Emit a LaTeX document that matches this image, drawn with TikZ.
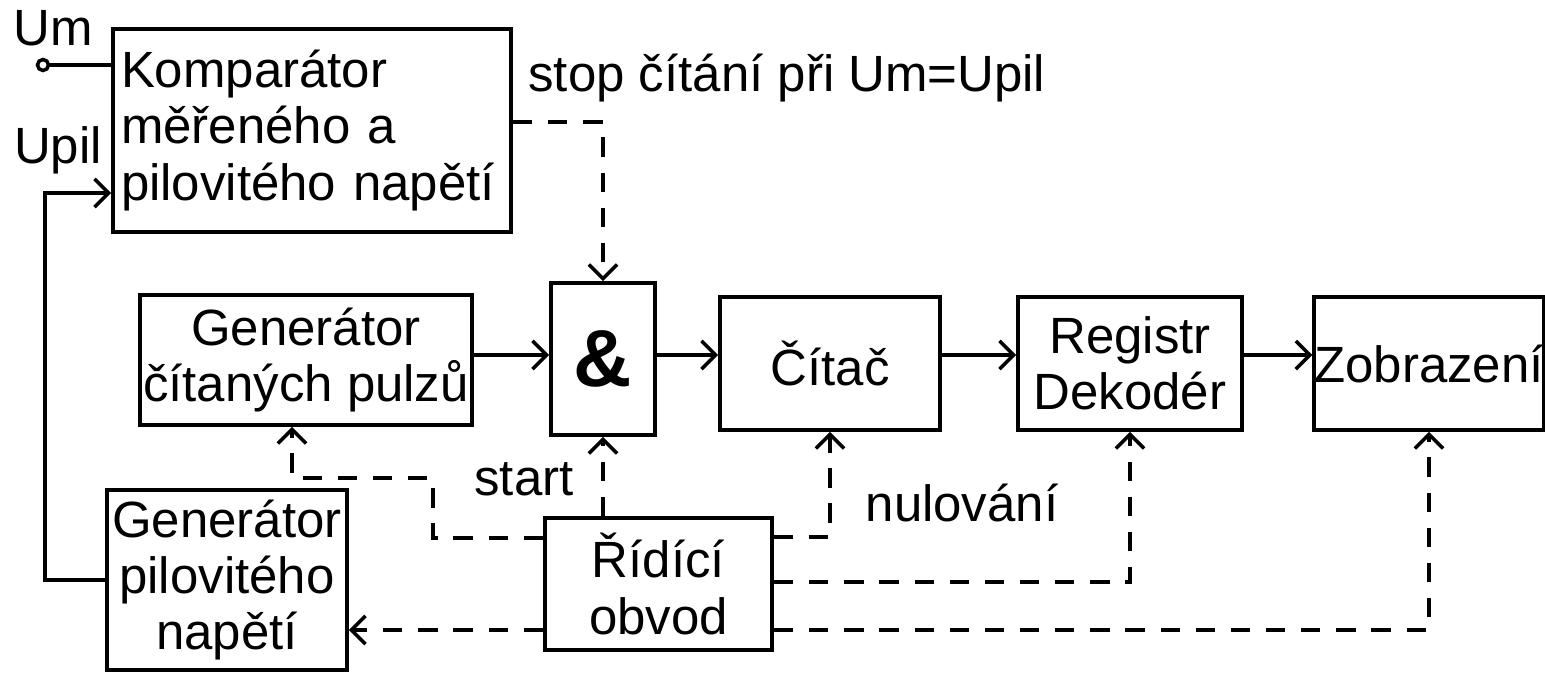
\documentclass[tikz,border=0pt]{standalone}
\usepackage{fontspec}
\setmainfont{Liberation Sans}
\usetikzlibrary{arrows.meta}
\begin{document}
\begin{tikzpicture}[line width=1pt, >={Straight Barb[length=4pt,width=8pt]},
  font=\fontsize{14.5}{16}\selectfont,
  blok/.style={draw, line width=1.1pt, inner sep=0pt, align=center},
  ctrl/.style={dash pattern=on 5.5pt off 4.5pt}]
\useasboundingbox (0,0) rectangle (15.45,6.74);
% bloky
\node[blok, minimum width=3.98cm, minimum height=2.03cm, text width=3.82cm, align=left] (komp) at (3.12,5.435) {Komparátor\\měřeného a\\pilovitého napětí};
\node[blok, minimum width=3.32cm, minimum height=1.30cm] (gencit) at (3.06,3.14) {Generátor\\čítaných pulzů};
\node[blok, minimum width=1.04cm, minimum height=1.52cm, font=\fontsize{23}{23}\selectfont\bfseries] (and) at (6.03,3.15) {\&};
\node[blok, minimum width=2.20cm, minimum height=1.33cm] (citac) at (8.30,3.105) {Čítač};
\node[blok, minimum width=2.24cm, minimum height=1.33cm] (reg) at (11.30,3.105) {Registr\\Dekodér};
\node[blok, minimum width=2.26cm, minimum height=1.33cm] (zobr) at (14.29,3.105) {Zobrazení};
\node[blok, minimum width=2.40cm, minimum height=1.80cm] (genpil) at (2.27,0.94) {Generátor\\pilovitého\\napětí};
\node[blok, minimum width=2.27cm, minimum height=1.32cm] (ridic) at (6.585,0.90) {Řídící\\obvod};
% vstupy
\node (um) at (0.53,6.46) {Um};
\node[circle, draw, inner sep=0pt, minimum size=0.11cm] (umin) at (0.43,6.09) {};
\node (upil) at (0.58,5.24) {Upil};
\coordinate (upilc) at (0.45,4.81);
\draw (umin) -- (umin -| komp.west);
\draw[->] (genpil.west) -| (upilc) -- (upilc -| komp.west);
% stop
\node[anchor=west] (stop) at (5.15,5.96) {stop čítání při Um=Upil};
\coordinate (stopc) at (6.03,5.52);
\draw[ctrl,->] (komp.east |- stopc) -| (and.north);
% hlavni cesta
\coordinate (row) at (0,3.19);
\draw[->] (gencit.east |- row) -- (and.west |- row);
\draw[->] (and.east |- row) -- (citac.west |- row);
\draw[->] (citac.east |- row) -- (reg.west |- row);
\draw[->] (reg.east |- row) -- (zobr.west |- row);
% rizeni
\node (start) at (5.24,1.95) {start};
\node (nul) at (9.62,1.71) {nulování};
\coordinate (gk1) at (4.33,1.36);
\coordinate (gk2) at (2.92,1.96);
\coordinate (nulc) at (0,1.37);
\coordinate (regc) at (0,0.92);
\coordinate (zobc) at (0,0.44);
\coordinate (pilc) at (0,0.44);
\draw[ctrl,->] (ridic.west |- gk1) -- (gk1) |- (gk2) -- (gk2 |- gencit.south);
\draw[ctrl,->] (and.south |- ridic.north) -- (and.south);
\draw[ctrl,->] (ridic.east |- nulc) -| (citac.south);
\draw[ctrl,->] (ridic.east |- regc) -| (reg.south);
\draw[ctrl,->] (ridic.east |- zobc) -| (zobr.south);
\draw[ctrl,->] (ridic.west |- pilc) -- (genpil.east |- pilc);
\end{tikzpicture}
\end{document}
